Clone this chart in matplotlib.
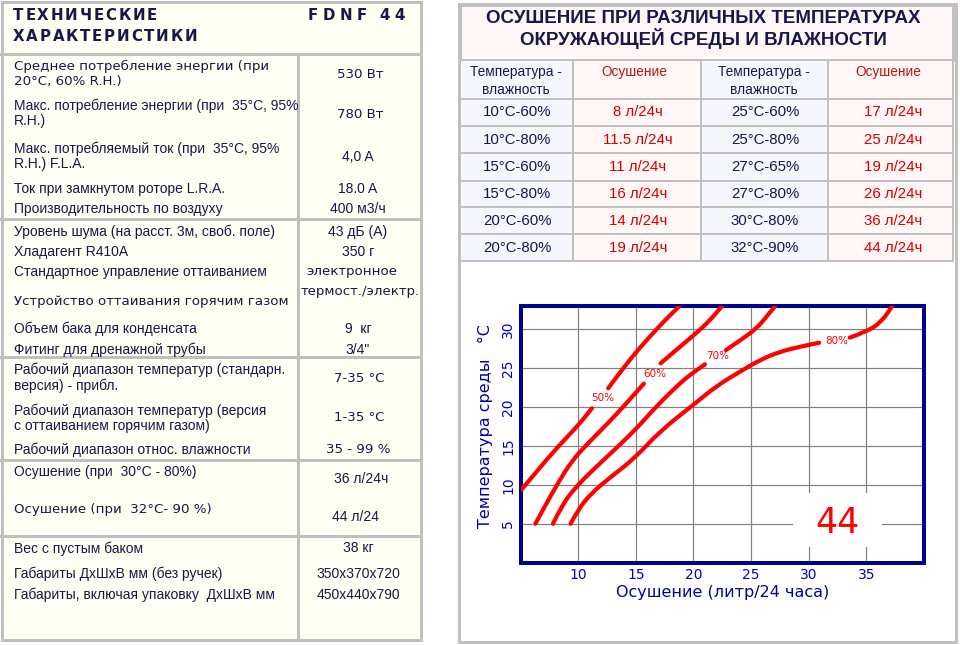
import matplotlib
matplotlib.use("Agg")
import matplotlib.pyplot as plt
from matplotlib.patches import Rectangle, PathPatch
from matplotlib.path import Path

plt.rcParams["font.family"] = ["Liberation Sans", "DejaVu Sans"]

# ---------------- data ----------------
spec_title = ["ТЕХНИЧЕСКИЕ", "ХАРАКТЕРИСТИКИ"]
spec_model = "FDNF 44"
spec_labels = [
    "Среднее потребление энергии (при\n20°C, 60% R.H.)",
    "Макс. потребление энергии (при  35°C, 95%\nR.H.)",
    "Макс. потребляемый ток (при  35°C, 95%\nR.H.) F.L.A.",
    "Ток при замкнутом роторе L.R.A.",
    "Производительность по воздуху",
    "Уровень шума (на расст. 3м, своб. поле)",
    "Хладагент R410A",
    "Стандартное управление оттаиванием",
    "Устройство оттаивания горячим газом",
    "Объем бака для конденсата",
    "Фитинг для дренажной трубы",
    "Рабочий диапазон температур (стандарн.\nверсия) - прибл.",
    "Рабочий диапазон температур (версия\nс оттаиванием горячим газом)",
    "Рабочий диапазон относ. влажности",
    "Осушение (при  30°C - 80%)",
    "Осушение (при  32°C- 90 %)",
    "Вес с пустым баком",
    "Габариты ДхШхВ мм (без ручек)",
    "Габариты, включая упаковку  ДхШхВ мм",
]
spec_values = [
    "530 Вт", "780 Вт", "4,0 A", "18.0 A", "400 м3/ч",
    "43 дБ (A)", "350 г", "электронное", "термост./электр.", "9  кг", "3/4\"",
    "7-35 °C", "1-35 °C", "35 - 99 %",
    "36 л/24ч", "44 л/24",
    "38 кг", "350x370x720", "450x440x790",
]

table_title = "ОСУШЕНИЕ ПРИ РАЗЛИЧНЫХ ТЕМПЕРАТУРАХ\nОКРУЖАЮЩЕЙ СРЕДЫ И ВЛАЖНОСТИ"
table_head = ["Температура -\nвлажность", "Осушение", "Температура -\nвлажность", "Осушение"]
temp_left = ["10°C-60%", "10°C-80%", "15°C-60%", "15°C-80%", "20°C-60%", "20°C-80%"]
dry_left = ["8 л/24ч", "11.5 л/24ч", "11 л/24ч", "16 л/24ч", "14 л/24ч", "19 л/24ч"]
temp_right = ["25°C-60%", "25°C-80%", "27°C-65%", "27°C-80%", "30°C-80%", "32°C-90%"]
dry_right = ["17 л/24ч", "25 л/24ч", "19 л/24ч", "26 л/24ч", "36 л/24ч", "44 л/24ч"]

# humidity curves: (dehumidification l/24h, ambient temperature °C), split at the label
rh_names = ["50%", "60%", "70%", "80%"]
rh50_low_x = [5.06, 6.51, 8.24, 9.98, 11.19]
rh50_low_y = [9.36, 11.92, 14.9, 17.6, 19.83]
rh50_up_x = [12.6, 14.2, 15.94, 17.67, 18.89, 19.1]
rh50_up_y = [22.4, 25.6, 28.6, 31.37, 33.08, 33.5]
rh60_low_x = [6.28, 7.09, 8.24, 9.4, 10.85, 12.58, 14.31, 15.7]
rh60_low_y = [5.0, 7.22, 10.22, 13.0, 15.35, 17.9, 20.68, 23.0]
rh60_up_x = [17.15, 18.82, 20.56, 21.71, 22.53, 22.8]
rh60_up_y = [25.6, 27.73, 29.87, 31.58, 33.08, 33.5]
rh70_low_x = [7.81, 8.53, 9.69, 11.43, 13.45, 15.3, 16.85, 18.82, 19.69, 20.99]
rh70_low_y = [5.0, 7.22, 9.58, 12.14, 14.9, 17.6, 20.2, 23.04, 24.1, 25.47]
rh70_up_x = [22.81, 24.31, 25.47, 26.34, 27.15, 27.4]
rh70_up_y = [27.3, 28.8, 30.09, 31.58, 33.08, 33.5]
rh80_low_x = [9.34, 9.98, 11.13, 12.87, 14.9, 17.1, 19.98, 22.0, 24.03, 25.76, 27.5, 29.23, 30.9]
rh80_low_y = [5.0, 6.8, 8.93, 11.06, 13.42, 16.9, 20.26, 22.7, 24.53, 26.03, 27.1, 27.73, 28.24]
rh80_up_x = [33.56, 35.0, 36.3, 37.27, 37.45]
rh80_up_y = [28.9, 29.65, 30.9, 33.0, 33.5]
rh_label_x = [12.12, 16.6, 22.06, 32.4]
rh_label_y = [21.1, 24.23, 26.5, 28.46]
model_label = "44"

# ---------------- layout (pixels) ----------------
W, H = 960, 645
spec_label_y = [74, 113, 156, 189, 209, 231.7, 251.7, 271.7, 301, 329, 350,
                378, 418, 449.3, 471.7, 509.3, 548.3, 574, 595]
spec_label_wide = [0, 8, 15]
spec_value_y = [74, 115, 156.7, 189, 209, 231.7, 251.7, 271.7, 291.7, 329, 350,
                378.3, 417.7, 449.3, 479.3, 517.3, 548.3, 574, 595]
spec_value_x = [360, 360, 358, 358, 358, 358, 358, 352, 360, 358, 358,
                359, 359, 358, 361, 355, 358, 358, 358]
spec_value_wide = [0, 1, 7, 8, 11, 12, 13]
spec_sep_y = [219, 357, 460, 536]
col_x = [460, 573, 701, 828, 953]
row_y = [60, 99, 126, 153.3, 180.7, 207.3, 234.3, 261]

navy = "#17174a"
red = "#d40000"
grey = "#c0c0c0"

fig = plt.figure(figsize=(9.6, 6.45), dpi=100)
bg = fig.add_axes([0, 0, 1, 1])
bg.set_xlim(0, W)
bg.set_ylim(H, 0)
bg.axis("off")
renderer = fig.canvas.get_renderer()


def px(v):
    return v * 72 / 100


def spaced_text(x0, x1, y, s, **kw):
    # letter-spaced text stretched to span x0..x1 (pixels)
    parts = [bg.text(0, y, ch, ha="left", va="center", **kw) for ch in s]
    widths = []
    for p, ch in zip(parts, s):
        w = p.get_window_extent(renderer).width
        widths.append(w if ch != " " and w > 1 else 4.0)
    gap = (x1 - x0 - sum(widths)) / (len(s) - 1)
    pos = x0
    for p, w in zip(parts, widths):
        p.set_x(pos)
        pos += w + gap


def smooth_path(xs, ys):
    # quadratic bezier through the midpoints of the read points
    pts = list(zip(xs, ys))
    verts, codes = [pts[0]], [Path.MOVETO]
    for i in range(1, len(pts) - 1):
        mid = ((pts[i][0] + pts[i + 1][0]) / 2, (pts[i][1] + pts[i + 1][1]) / 2)
        verts += [pts[i], mid]
        codes += [Path.CURVE3, Path.CURVE3]
    verts.append(pts[-1])
    codes.append(Path.LINETO)
    return Path(verts, codes)


# left panel
bg.add_patch(Rectangle((1.5, 1.5), 419, 638, facecolor="#fffff4", edgecolor=grey, lw=px(3)))
bg.plot([0, 421], [53.5, 53.5], color=grey, lw=px(3))
bg.plot([297.5, 297.5], [53.5, 640], color=grey, lw=px(3))
for y in spec_sep_y:
    bg.plot([0, 421], [y, y], color=grey, lw=px(3))

title_kw = dict(fontsize=10.8, fontweight="bold", color=navy, family="DejaVu Sans")
spaced_text(13, 157, 16, spec_title[0], **title_kw)
spaced_text(13, 197, 36.5, spec_title[1], **title_kw)
spaced_text(308, 405, 16, spec_model, **title_kw)

for i, (label, ly) in enumerate(zip(spec_labels, spec_label_y)):
    if i in spec_label_wide:
        bg.text(14, ly, label, fontsize=9.6, color=navy, va="center", ha="left",
                linespacing=1.12, family="DejaVu Sans")
    else:
        bg.text(14, ly, label, fontsize=10, color=navy, va="center", ha="left", linespacing=1.1)
for i, (value, vx, vy) in enumerate(zip(spec_values, spec_value_x, spec_value_y)):
    fam = "DejaVu Sans" if i in spec_value_wide else "Liberation Sans"
    size = 9.6 if i in spec_value_wide else 10
    bg.text(vx, vy, value, fontsize=size, color=navy, va="center", ha="center", family=fam)

# right panel
bg.add_patch(Rectangle((458.5, 3.5), 497, 638, facecolor="white", edgecolor=grey, lw=px(3)))
bg.add_patch(Rectangle((460, 5), 493, 55, facecolor="#fff7f7", edgecolor=grey, lw=px(3)))
bg.text(703, 29.5, table_title, fontsize=13.5, fontweight="bold", color=navy,
        ha="center", va="center", linespacing=1.02)

cell_fill = ["#f6f6ff", "#fff6f6", "#f6f6ff", "#fff6f6"]
for c in range(4):
    for r in range(len(row_y) - 1):
        bg.add_patch(Rectangle((col_x[c], row_y[r]), col_x[c + 1] - col_x[c], row_y[r + 1] - row_y[r],
                               facecolor=cell_fill[c], edgecolor=grey, lw=px(2)))

head_x = [516, 634, 764, 888]
for c, txt in enumerate(table_head):
    if c % 2 == 0:
        bg.text(head_x[c], 81, txt, fontsize=9.8, color=navy, ha="center", va="center",
                linespacing=1.35)
    else:
        bg.text(head_x[c], 72, txt, fontsize=9.8, color="#b81414", ha="center", va="center")

cols = [temp_left, dry_left, temp_right, dry_right]
val_x = [517, 638, 765, 893]
for c, column in enumerate(cols):
    for r, txt in enumerate(column):
        y = (row_y[r + 1] + row_y[r + 2]) / 2
        bg.text(val_x[c], y, txt, fontsize=10.8, color=navy if c % 2 == 0 else red,
                ha="center", va="center")

# chart
left, right, top, bottom = 520.6, 924, 305.7, 562.7
ax = fig.add_axes([left / W, 1 - bottom / H, (right - left) / W, (bottom - top) / H])
ax.set_xlim(5, 40)
ax.set_ylim(0, 33)
ax.set_xticks([10, 15, 20, 25, 30, 35])
ax.set_yticks([5, 10, 15, 20, 25, 30])
ax.grid(True, color="#808080", lw=px(1.2))
for s in ax.spines.values():
    s.set_color("#00008f")
    s.set_linewidth(px(4))
ax.tick_params(length=0, colors="#0000c0", labelsize=10)
ax.tick_params(axis="x", pad=4)
ax.tick_params(axis="y", pad=4, labelrotation=90)
for t in ax.get_xticklabels() + ax.get_yticklabels():
    t.set_family("DejaVu Sans")
for t in ax.get_yticklabels():
    t.set_va("center")
ax.set_xlabel("Осушение (литр/24 часа)", fontsize=11.5, color="#0000a0",
              family="DejaVu Sans", labelpad=2)
ax.set_ylabel("Температура среды   °С", fontsize=11.5, color="#0000a0", family="DejaVu Sans")
ax.yaxis.set_label_coords(-0.068, 0.53)

ax.add_patch(Rectangle((28.6, 2.0), 7.75, 7.0, facecolor="white", edgecolor="none", zorder=2))
ax.text(32.5, 5.1, model_label, fontsize=25, color="#ff0000", family="DejaVu Sans",
        ha="center", va="center", zorder=3)

segments = [
    (rh50_low_x, rh50_low_y), (rh50_up_x, rh50_up_y),
    (rh60_low_x, rh60_low_y), (rh60_up_x, rh60_up_y),
    (rh70_low_x, rh70_low_y), (rh70_up_x, rh70_up_y),
    (rh80_low_x, rh80_low_y), (rh80_up_x, rh80_up_y),
]
for xs, ys in segments:
    ax.add_patch(PathPatch(smooth_path(xs, ys), fill=False, edgecolor="#ff0000", lw=px(4.2),
                           capstyle="round", joinstyle="round", zorder=3))
for name, lx, ly in zip(rh_names, rh_label_x, rh_label_y):
    ax.text(lx, ly, name, fontsize=7.5, color="#ff0000", family="DejaVu Sans",
            ha="center", va="center", zorder=4)

fig.savefig("out.png", dpi=100)
